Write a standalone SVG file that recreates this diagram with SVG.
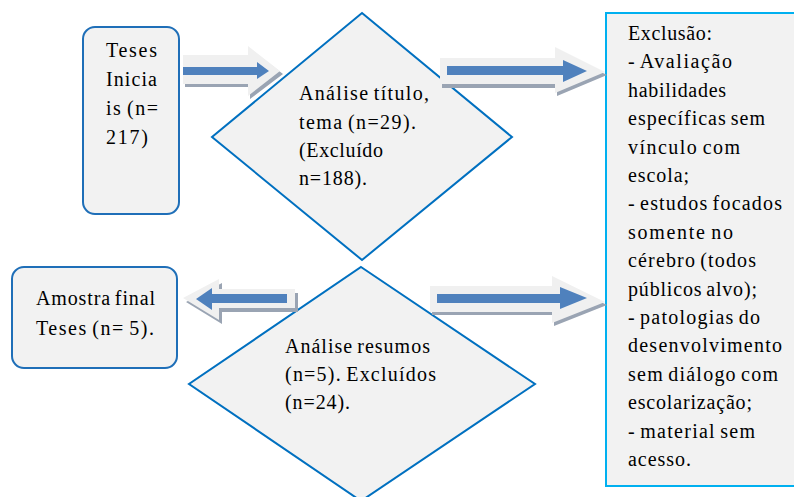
<svg xmlns="http://www.w3.org/2000/svg" width="794" height="497" viewBox="0 0 794 497">
  <style>
    .box { fill: #f2f2f2; stroke: #1f6fb8; stroke-width: 2; }
    .dia { fill: #f2f2f2; stroke: #0070c0; stroke-width: 2; stroke-linejoin: miter; }
    .exc { fill: #f2f2f2; stroke: #00b0f0; stroke-width: 2; }
    .t { font-family: "Liberation Serif", "Times New Roman", serif; font-size: 20px; fill: #000; word-spacing: -2px; }
    .halo { fill: #f0f0f0; }
    .shade { fill: #9aa4b3; }
    .core { fill: #4f81bd; }
  </style>
  <rect width="794" height="497" fill="#ffffff"/>

  <g id="teses-iniciais">
    <rect class="box" x="83" y="27" width="96" height="187" rx="12" ry="12"/>
    <text class="t" x="106" y="57" textLength="51" lengthAdjust="spacing">Teses</text>
    <text class="t" x="106" y="86" textLength="51" lengthAdjust="spacing">Inicia</text>
    <text class="t" x="106" y="115" textLength="52" lengthAdjust="spacing">is (n=</text>
    <text class="t" x="106" y="144" textLength="42" lengthAdjust="spacing">217)</text>
  </g>

  <g id="analise-titulo">
    <polygon class="dia" points="362,13 512,137 362,260 212,137"/>
    <text class="t" x="299" y="100" textLength="130" lengthAdjust="spacing">Análise título,</text>
    <text class="t" x="299" y="129" textLength="117" lengthAdjust="spacing">tema (n=29).</text>
    <text class="t" x="299" y="157" textLength="84" lengthAdjust="spacing">(Excluído</text>
    <text class="t" x="299" y="185" textLength="68" lengthAdjust="spacing">n=188).</text>
  </g>

  <g id="exclusao">
    <rect class="exc" x="606" y="13" width="200" height="473"/>
    <text class="t" x="628" y="40" textLength="84" lengthAdjust="spacing">Exclusão:</text>
    <text class="t" x="628" y="68.4" textLength="104" lengthAdjust="spacing">- Avaliação</text>
    <text class="t" x="628" y="96.8" textLength="98" lengthAdjust="spacing">habilidades</text>
    <text class="t" x="628" y="125.2" textLength="137" lengthAdjust="spacing">específicas sem</text>
    <text class="t" x="628" y="153.6" textLength="112" lengthAdjust="spacing">vínculo com</text>
    <text class="t" x="628" y="182" textLength="61" lengthAdjust="spacing">escola;</text>
    <text class="t" x="628" y="210.4" textLength="154" lengthAdjust="spacing">- estudos focados</text>
    <text class="t" x="628" y="238.8" textLength="105" lengthAdjust="spacing">somente no</text>
    <text class="t" x="628" y="267.2" textLength="128" lengthAdjust="spacing">cérebro (todos</text>
    <text class="t" x="628" y="295.6" textLength="129" lengthAdjust="spacing">públicos alvo);</text>
    <text class="t" x="628" y="324" textLength="132" lengthAdjust="spacing">- patologias do</text>
    <text class="t" x="628" y="352.4" textLength="154" lengthAdjust="spacing">desenvolvimento</text>
    <text class="t" x="628" y="380.8" textLength="150" lengthAdjust="spacing">sem diálogo com</text>
    <text class="t" x="628" y="409.2" textLength="124" lengthAdjust="spacing">escolarização;</text>
    <text class="t" x="628" y="437.6" textLength="127" lengthAdjust="spacing">- material sem</text>
    <text class="t" x="628" y="466" textLength="63" lengthAdjust="spacing">acesso.</text>
  </g>

  <g id="amostra-final">
    <rect class="box" x="12" y="267" width="165" height="101" rx="12" ry="12"/>
    <text class="t" x="36" y="305" textLength="119" lengthAdjust="spacing">Amostra final</text>
    <text class="t" x="36" y="335" textLength="118" lengthAdjust="spacing">Teses (n= 5).</text>
  </g>

  <g id="analise-resumos">
    <polygon class="dia" points="361,267 535,384 361,501 189,384"/>
    <text class="t" x="285" y="353" textLength="145" lengthAdjust="spacing">Análise resumos</text>
    <text class="t" x="285" y="381" textLength="151" lengthAdjust="spacing">(n=5). Excluídos</text>
    <text class="t" x="285" y="409" textLength="65" lengthAdjust="spacing">(n=24).</text>
  </g>

  <g id="connectors">
    <!-- teses iniciais -> analise titulo -->
    <g id="arrow-1">
      <path class="shade" d="M185,58 H250 V49 L283,74 L250,99 V87 H185 Z"/>
      <path class="halo" d="M183,55 H248 V46 L280,71 L248,96 V84 H183 Z"/>
      <path class="core" d="M183,67 H257 V62 L269,71 L257,79 V75 H183 Z"/>
    </g>
    <!-- analise titulo -> exclusao -->
    <g id="arrow-2">
      <path class="shade" d="M442,61 H557 V50 L607,75 L557,96 V88 H442 Z"/>
      <path class="halo" d="M440,58 H555 V47 L605,72 L555,93 V84 H440 Z"/>
      <path class="core" d="M447,66 H563 V60 L587,71 L563,82 V75 H447 Z"/>
    </g>
    <!-- analise resumos -> amostra final -->
    <g id="arrow-3">
      <path class="shade" d="M186,302 L222,283 V293 H298 V312 H222 V324 Z"/>
      <path class="halo" d="M183,298 L219,279 V289 H295 V308 H219 V320 Z"/>
      <path class="core" d="M196,299 L212,288 V294 H287 V303 H212 V310 Z"/>
    </g>
    <!-- analise resumos -> exclusao -->
    <g id="arrow-4">
      <path class="shade" d="M432,289 H554 V279 L607,305 L554,326 V315 H432 Z"/>
      <path class="halo" d="M430,286 H552 V276 L605,302 L552,323 V312 H430 Z"/>
      <path class="core" d="M437,294 H560 V287 L587,298 L560,309 V303 H437 Z"/>
    </g>
  </g>
</svg>
